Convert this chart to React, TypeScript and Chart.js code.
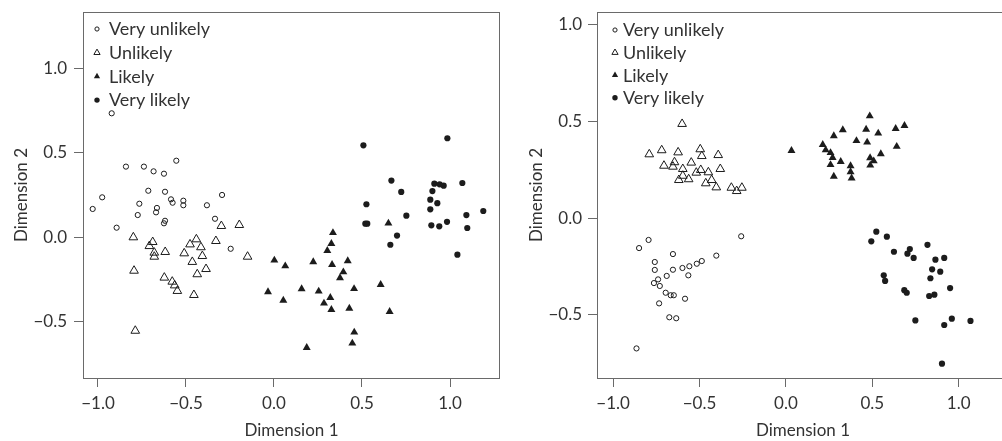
import React, { useEffect, useRef } from "react";
import { Chart, registerables } from "chart.js";

Chart.register(...registerables);

// ---------- data ----------
const seriesLabels = ["Very unlikely", "Unlikely", "Likely", "Very likely"];
const xTickValues = [-1, -0.5, 0, 0.5, 1];
const yTickValues = [-0.5, 0, 0.5, 1];
const xAxisTitle = "Dimension 1";
const yAxisTitle = "Dimension 2";

// Left panel
const leftVeryUnlikely: number[][] = [
  [-0.922, 0.735], [-0.841, 0.419], [-0.739, 0.419], [-0.684, 0.391], [-0.625, 0.377],
  [-0.555, 0.454], [-0.976, 0.237], [-0.714, 0.276], [-0.619, 0.27], [-0.585, 0.225],
  [-0.576, 0.205], [-0.515, 0.217], [-0.515, 0.19], [-0.765, 0.199], [-0.665, 0.174],
  [-0.67, 0.148], [-0.774, 0.132], [-0.381, 0.19], [-0.295, 0.251], [-0.335, 0.11],
  [-0.619, 0.098], [-0.625, 0.083], [-0.894, 0.057], [-0.246, -0.068], [-1.03, 0.168],
];
const leftUnlikely: number[][] = [
  [-0.299, 0.067], [-0.197, 0.073], [-0.799, 0.0], [-0.689, -0.028], [-0.708, -0.052],
  [-0.68, -0.091], [-0.68, -0.115], [-0.618, -0.087], [-0.795, -0.198], [-0.623, -0.239],
  [-0.578, -0.263], [-0.564, -0.285], [-0.549, -0.318], [-0.455, -0.342], [-0.51, -0.095],
  [-0.477, -0.042], [-0.441, -0.012], [-0.415, -0.059], [-0.407, -0.111], [-0.464, -0.146],
  [-0.436, -0.219], [-0.386, -0.188], [-0.33, -0.022], [-0.15, -0.115], [-0.788, -0.554],
];
const leftLikely: number[][] = [
  [0.002, -0.136], [0.064, -0.17], [-0.034, -0.324], [0.053, -0.374], [0.157, -0.306],
  [0.186, -0.654], [0.223, -0.146], [0.254, -0.32], [0.284, -0.391], [0.32, -0.358],
  [0.326, -0.429], [0.33, -0.162], [0.303, -0.079], [0.326, -0.038], [0.335, 0.027],
  [0.394, -0.206], [0.375, -0.241], [0.419, -0.14], [0.455, -0.305], [0.428, -0.421],
  [0.456, -0.563], [0.445, -0.628], [0.606, -0.281], [0.657, -0.441], [0.65, 0.083],
];
const leftVeryLikely: number[][] = [
  [0.508, 0.545], [0.985, 0.587], [0.667, 0.336], [0.723, 0.269], [0.525, 0.196],
  [0.519, 0.081], [0.53, 0.081], [0.752, 0.128], [0.699, 0.01], [0.661, -0.044],
  [0.911, 0.318], [0.941, 0.314], [0.964, 0.306], [0.9, 0.274], [0.888, 0.223],
  [0.928, 0.202], [0.888, 0.166], [1.07, 0.322], [1.189, 0.156], [1.093, 0.132],
  [0.894, 0.071], [0.939, 0.065], [0.983, 0.092], [1.098, 0.055], [1.042, -0.103],
];

// Right panel
const rightVeryUnlikely: number[][] = [
  [-0.259, -0.093], [-0.795, -0.112], [-0.85, -0.154], [-0.654, -0.185], [-0.759, -0.226],
  [-0.759, -0.267], [-0.654, -0.266], [-0.69, -0.298], [-0.599, -0.257], [-0.559, -0.248],
  [-0.516, -0.235], [-0.487, -0.221], [-0.403, -0.193], [-0.565, -0.295], [-0.74, -0.316],
  [-0.764, -0.335], [-0.73, -0.35], [-0.696, -0.385], [-0.667, -0.398], [-0.649, -0.398],
  [-0.584, -0.416], [-0.734, -0.44], [-0.675, -0.512], [-0.635, -0.517], [-0.865, -0.673],
];
const rightUnlikely: number[][] = [
  [-0.601, 0.488], [-0.791, 0.331], [-0.719, 0.352], [-0.624, 0.341], [-0.496, 0.357],
  [-0.487, 0.322], [-0.392, 0.327], [-0.706, 0.272], [-0.654, 0.267], [-0.645, 0.29],
  [-0.597, 0.255], [-0.548, 0.288], [-0.597, 0.22], [-0.62, 0.198], [-0.563, 0.202],
  [-0.519, 0.236], [-0.493, 0.25], [-0.449, 0.238], [-0.43, 0.198], [-0.464, 0.181],
  [-0.403, 0.16], [-0.38, 0.255], [-0.316, 0.158], [-0.285, 0.141], [-0.255, 0.158],
];
const rightLikely: number[][] = [
  [0.032, 0.35], [0.213, 0.381], [0.277, 0.426], [0.329, 0.457], [0.23, 0.353],
  [0.258, 0.339], [0.27, 0.314], [0.258, 0.277], [0.317, 0.293], [0.277, 0.217],
  [0.374, 0.271], [0.374, 0.24], [0.38, 0.208], [0.408, 0.401], [0.464, 0.46],
  [0.485, 0.529], [0.47, 0.393], [0.534, 0.44], [0.487, 0.312], [0.508, 0.296],
  [0.488, 0.274], [0.549, 0.333], [0.635, 0.464], [0.686, 0.479], [0.641, 0.371],
];
const rightVeryLikely: number[][] = [
  [0.523, -0.069], [0.584, -0.095], [0.494, -0.119], [0.625, -0.173], [0.717, -0.159],
  [0.703, -0.183], [0.739, -0.205], [0.819, -0.137], [0.865, -0.214], [0.916, -0.205],
  [0.846, -0.264], [0.893, -0.276], [0.836, -0.31], [0.566, -0.295], [0.574, -0.324],
  [0.685, -0.372], [0.699, -0.385], [0.95, -0.361], [0.829, -0.402], [0.859, -0.395],
  [0.749, -0.528], [0.96, -0.519], [0.916, -0.552], [1.068, -0.531], [0.903, -0.752],
];

// ---------- styling ----------
const FONT = "Lato, 'Open Sans', sans-serif";
const TEXT = "#333333";
const LINE = "#6a6a6a";
const INK = "#1c1c1c";

type MarkerStyle = { shape: "circle" | "triangle"; r: number; fill: boolean; legendR: number };
const markerStyles: MarkerStyle[] = [
  { shape: "circle", r: 2.6, fill: false, legendR: 2.1 },
  { shape: "triangle", r: 5, fill: false, legendR: 3.6 },
  { shape: "triangle", r: 4.6, fill: true, legendR: 3.6 },
  { shape: "circle", r: 3.1, fill: true, legendR: 2.7 },
];

function fmt(v: number): string {
  const s = Math.abs(v).toFixed(1);
  return v < 0 ? "\u2212" + s : s;
}

function drawMarker(ctx: CanvasRenderingContext2D, st: MarkerStyle, x: number, y: number, r: number) {
  ctx.beginPath();
  if (st.shape === "circle") {
    ctx.arc(x, y, r, 0, Math.PI * 2);
  } else {
    let rad = 0;
    ctx.moveTo(x + Math.sin(rad) * r, y - Math.cos(rad) * r);
    rad += (2 * Math.PI) / 3;
    ctx.lineTo(x + Math.sin(rad) * r, y - Math.cos(rad) * r);
    rad += (2 * Math.PI) / 3;
    ctx.lineTo(x + Math.sin(rad) * r, y - Math.cos(rad) * r);
    ctx.closePath();
  }
  if (st.fill) {
    ctx.fillStyle = INK;
    ctx.fill();
  } else {
    ctx.lineWidth = 1;
    ctx.strokeStyle = INK;
    ctx.stroke();
  }
}

const boxPlugin = {
  id: "box",
  afterDraw(chart: any) {
    const { ctx, chartArea } = chart;
    const l = Math.round(chartArea.left) + 0.5;
    const t = Math.round(chartArea.top) + 0.5;
    const r = Math.round(chartArea.right) - 0.5;
    const b = Math.round(chartArea.bottom) + 0.5;
    ctx.save();
    ctx.strokeStyle = LINE;
    ctx.lineWidth = 1;
    ctx.strokeRect(l, t, r - l, b - t);
    ctx.restore();
  },
};

const innerLegendPlugin = {
  id: "innerLegend",
  afterDraw(chart: any, _args: any, opts: any) {
    const { ctx, chartArea } = chart;
    ctx.save();
    ctx.font = `${opts.fontSize}px ${FONT}`;
    ctx.textBaseline = "middle";
    ctx.textAlign = "left";
    seriesLabels.forEach((label, i) => {
      const y = chartArea.top + opts.firstY + i * opts.rowGap;
      drawMarker(ctx, markerStyles[i], chartArea.left + opts.markerX, y, markerStyles[i].legendR);
      ctx.fillStyle = TEXT;
      ctx.fillText(label, chartArea.left + opts.textX, y + 0.5);
    });
    ctx.restore();
  },
};

type PanelCfg = {
  left: number;
  width: number;
  series: number[][][];
  xMin: number;
  xMax: number;
  yMin: number;
  yMax: number;
  yAxisWidth: number;
  padRight: number;
  yTitlePad: number;
  yTickPad: number;
  legend: { markerX: number; textX: number; firstY: number; rowGap: number; fontSize: number };
};

function Panel({ cfg }: { cfg: PanelCfg }) {
  const ref = useRef<HTMLCanvasElement>(null);
  useEffect(() => {
    const canvas = ref.current!;
    const tickFont = { family: FONT, size: 17 };
    const chart = new Chart(canvas, {
      type: "scatter",
      data: {
        datasets: cfg.series.map((pts, i) => {
          const st = markerStyles[i];
          return {
            label: seriesLabels[i],
            data: pts.map(([x, y]) => ({ x, y })),
            pointStyle: st.shape,
            pointRadius: st.r,
            pointHoverRadius: st.r,
            pointBackgroundColor: st.fill ? INK : "rgba(0,0,0,0)",
            pointBorderColor: INK,
            pointBorderWidth: st.fill ? 0 : 1,
          };
        }),
      },
      options: {
        responsive: false,
        animation: false,
        events: [],
        layout: { padding: { top: 12, right: cfg.padRight, bottom: 0, left: 0 } },
        plugins: {
          legend: { display: false },
          tooltip: { enabled: false },
          innerLegend: cfg.legend,
        } as any,
        scales: {
          x: {
            type: "linear",
            min: cfg.xMin,
            max: cfg.xMax,
            afterBuildTicks: (s: any) => {
              s.ticks = xTickValues.map((v) => ({ value: v }));
            },
            afterFit: (s: any) => {
              s.height = 63;
              s.paddingLeft = 0;
              s.paddingRight = 0;
            },
            ticks: {
              callback: (v: any) => fmt(Number(v)),
              font: tickFont,
              color: TEXT,
              padding: 6,
              maxRotation: 0,
              autoSkip: false,
            },
            grid: { drawOnChartArea: false, drawTicks: true, tickLength: 9, color: LINE, lineWidth: 1 },
            border: { display: false },
            title: {
              display: true,
              text: xAxisTitle,
              font: tickFont,
              color: TEXT,
              padding: { top: 0, bottom: 0 },
            },
          },
          y: {
            type: "linear",
            min: cfg.yMin,
            max: cfg.yMax,
            afterBuildTicks: (s: any) => {
              s.ticks = yTickValues.map((v) => ({ value: v }));
            },
            afterFit: (s: any) => {
              s.width = cfg.yAxisWidth;
              s.paddingTop = 0;
              s.paddingBottom = 0;
            },
            ticks: {
              callback: (v: any) => fmt(Number(v)),
              font: tickFont,
              color: TEXT,
              padding: cfg.yTickPad,
              autoSkip: false,
            },
            grid: { drawOnChartArea: false, drawTicks: true, tickLength: 9, color: LINE, lineWidth: 1 },
            border: { display: false },
            title: {
              display: true,
              text: yAxisTitle,
              font: tickFont,
              color: TEXT,
              padding: { top: cfg.yTitlePad, bottom: 0 },
            },
          },
        },
      } as any,
      plugins: [boxPlugin, innerLegendPlugin],
    });
    return () => chart.destroy();
  }, []);
  return (
    <canvas
      ref={ref}
      width={cfg.width}
      height={441}
      style={{ position: "absolute", left: cfg.left, top: 0, width: cfg.width, height: 441 }}
    />
  );
}

const leftPanel: PanelCfg = {
  left: 0,
  width: 510,
  series: [leftVeryUnlikely, leftUnlikely, leftLikely, leftVeryLikely],
  xMin: -1.085,
  xMax: 1.284,
  yMin: -0.834,
  yMax: 1.3355,
  yAxisWidth: 83,
  padRight: 10,
  yTitlePad: 11,
  yTickPad: 7,
  legend: { markerX: 14, textX: 26, firstY: 17, rowGap: 23.7, fontSize: 18 },
};

// the right panel's frame runs past the page edge (its right side is cut off)
const rightPanel: PanelCfg = {
  left: 520,
  width: 495,
  series: [rightVeryUnlikely, rightUnlikely, rightLikely, rightVeryLikely],
  xMin: -1.0935,
  xMax: 1.2909,
  yMin: -0.826,
  yMax: 1.067,
  yAxisWidth: 77,
  padRight: 0,
  yTitlePad: 6,
  yTickPad: 6,
  legend: { markerX: 18, textX: 26, firstY: 18, rowGap: 22.6, fontSize: 18 },
};

export default function App() {
  return (
    <div style={{ position: "absolute", left: 0, top: 0, width: 1002, height: 441, background: "#fff", overflow: "hidden" }}>
      <Panel cfg={leftPanel} />
      <Panel cfg={rightPanel} />
    </div>
  );
}
